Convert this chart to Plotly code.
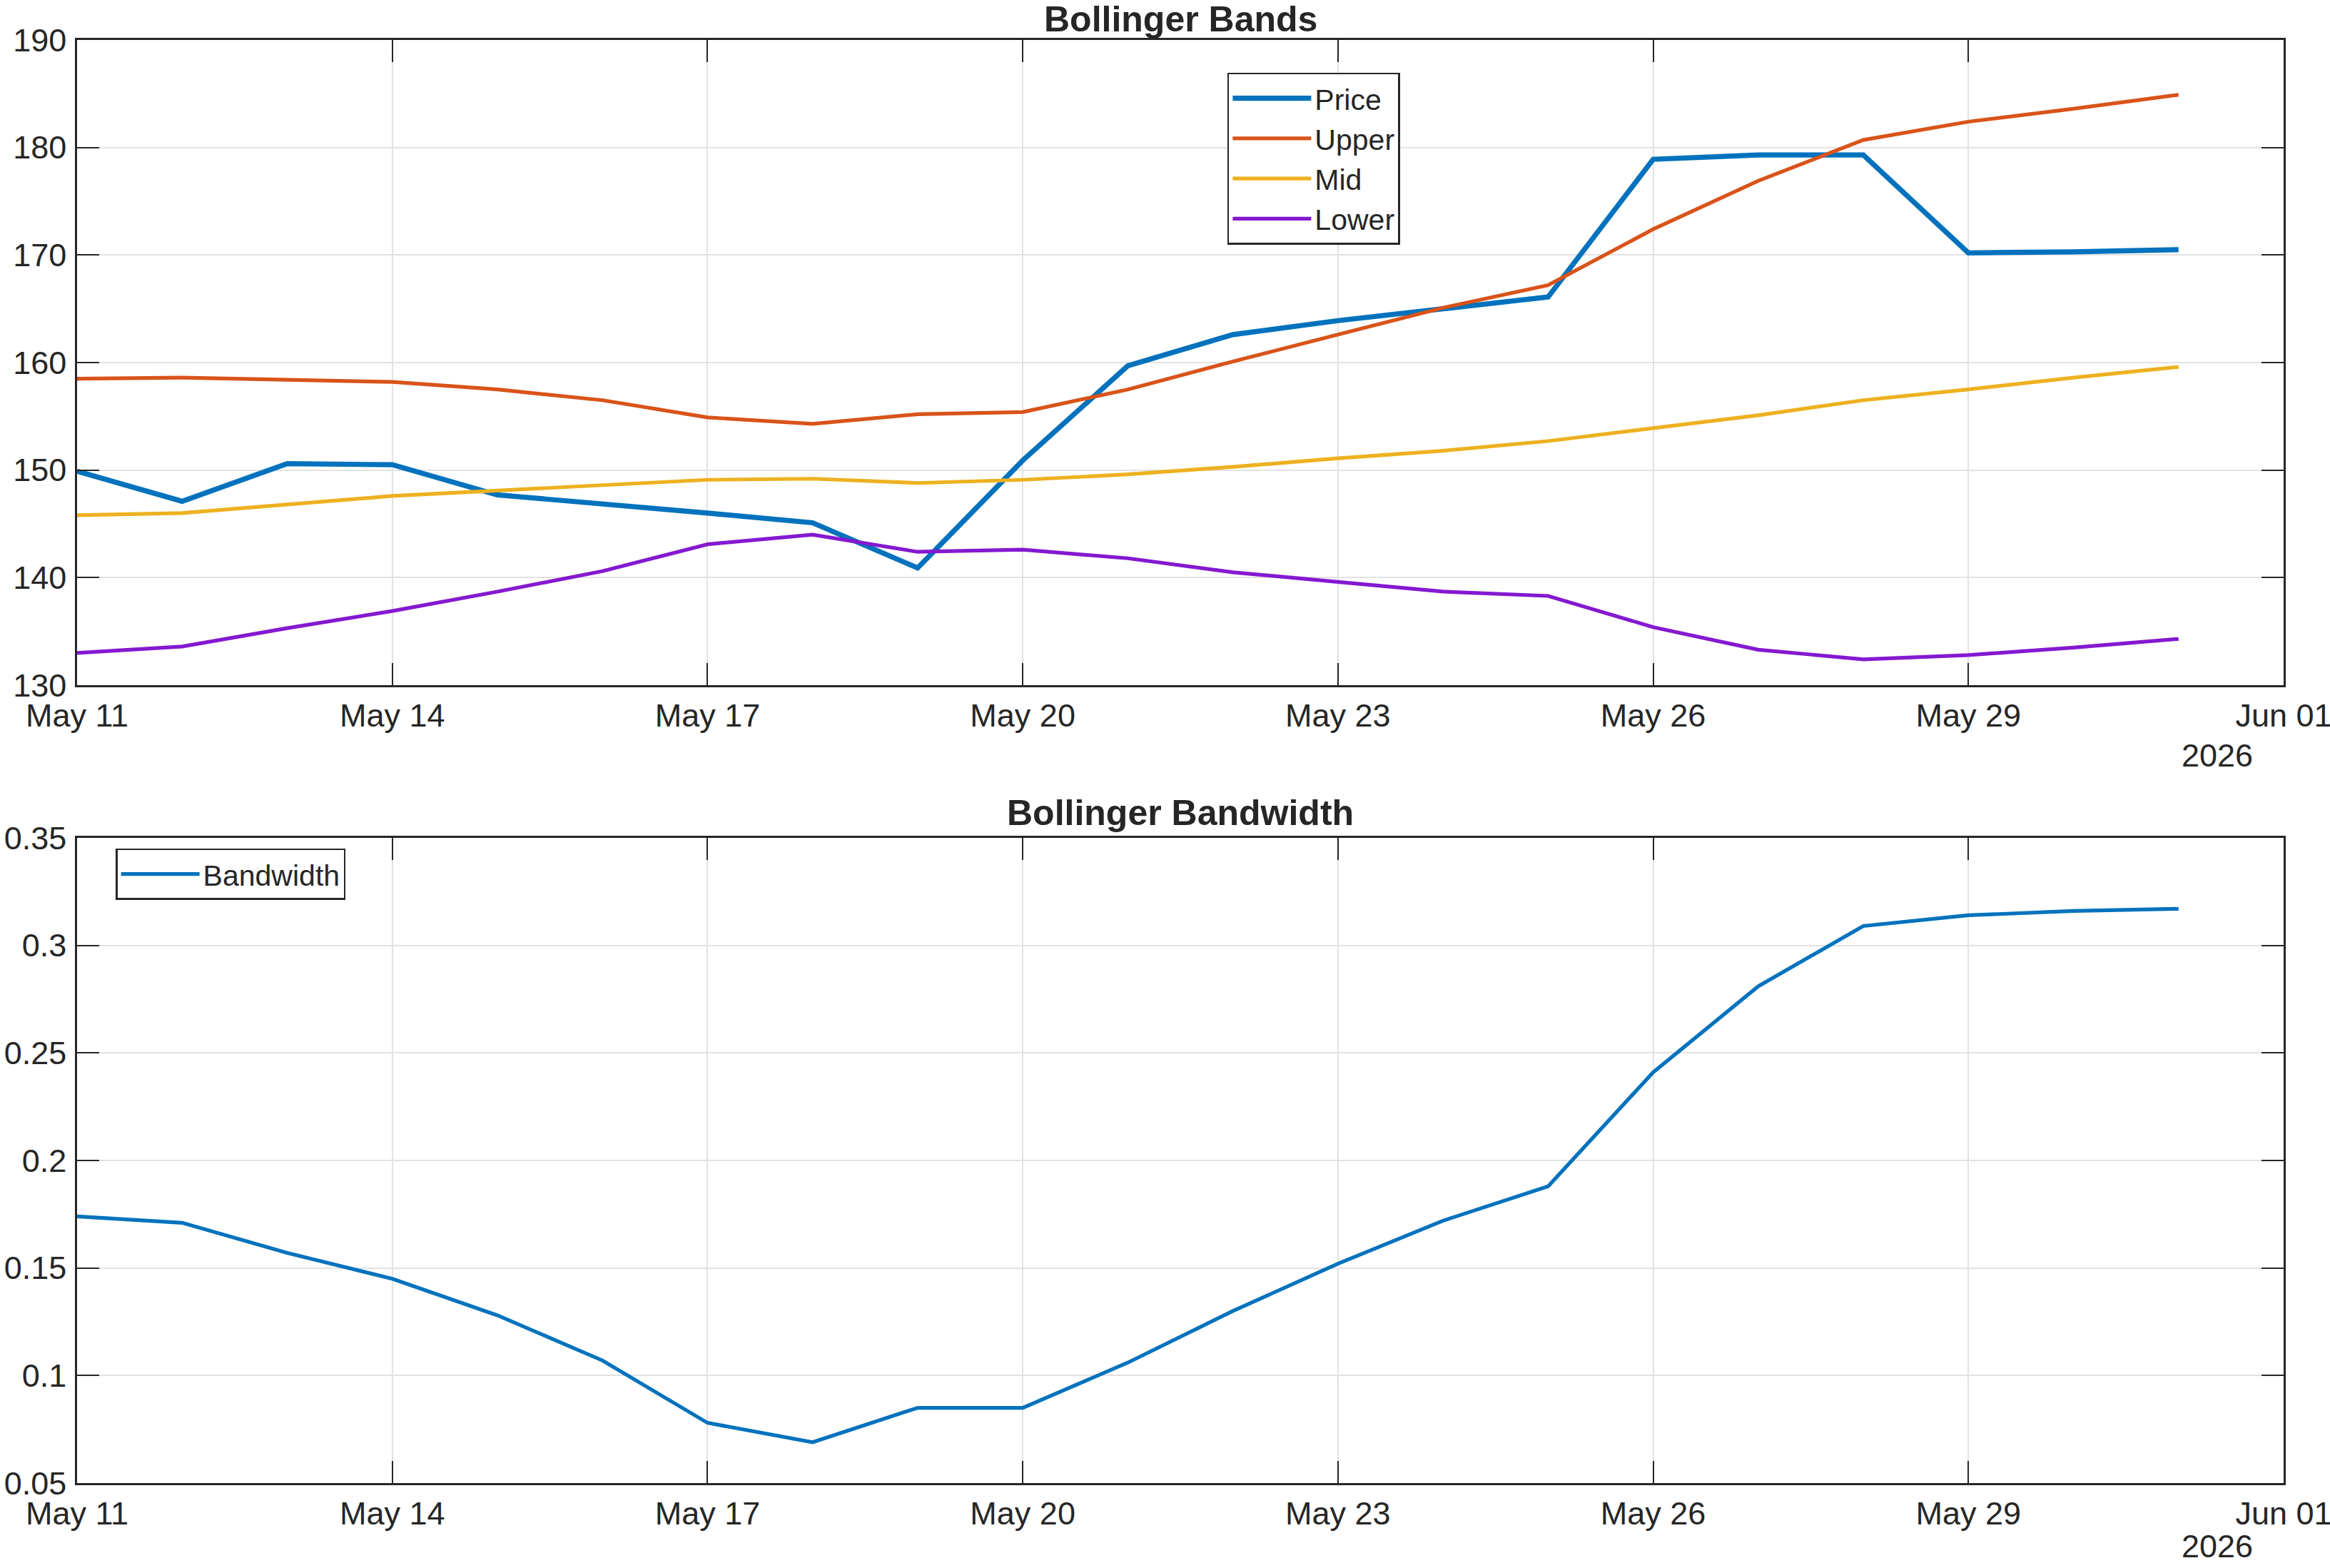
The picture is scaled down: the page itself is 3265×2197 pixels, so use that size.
import plotly.graph_objects as go
from plotly.subplots import make_subplots

dates = ["2026-05-%02d" % d for d in range(11, 32)]

price = [149.9, 147.1, 150.6, 150.5, 147.7, 146.9, 146.0, 145.1, 140.9, 150.9,
         159.7, 162.6, 163.9, 165.0, 166.1, 178.9, 179.3, 179.3, 170.2, 170.3, 170.5]
upper = [158.5, 158.6, 158.4, 158.2, 157.5, 156.5, 154.9, 154.3, 155.2, 155.4,
         157.5, 160.1, 162.6, 165.1, 167.2, 172.4, 176.9, 180.7, 182.4, 183.6, 184.9]
mid = [145.8, 146.0, 146.8, 147.6, 148.1, 148.6, 149.1, 149.2, 148.8, 149.1,
       149.6, 150.3, 151.1, 151.8, 152.7, 153.9, 155.1, 156.5, 157.5, 158.6, 159.6]
lower = [133.0, 133.6, 135.3, 136.9, 138.7, 140.6, 143.1, 144.0, 142.4, 142.6,
         141.8, 140.5, 139.6, 138.7, 138.3, 135.4, 133.3, 132.4, 132.8, 133.5, 134.3]
bandwidth = [0.174, 0.171, 0.157, 0.145, 0.128, 0.107, 0.078, 0.069, 0.085, 0.085,
             0.106, 0.130, 0.152, 0.172, 0.188, 0.241, 0.281, 0.309, 0.314, 0.316, 0.317]

xtick_vals = ["2026-05-11", "2026-05-14", "2026-05-17", "2026-05-20", "2026-05-23",
              "2026-05-26", "2026-05-29", "2026-06-01"]
xtick_text = ["May 11", "May 14", "May 17", "May 20", "May 23", "May 26", "May 29", "Jun 01"]
y1_ticks = [130, 140, 150, 160, 170, 180, 190]
y2_ticks = [0.05, 0.1, 0.15, 0.2, 0.25, 0.3, 0.35]

FONT = "Arial, Liberation Sans, Helvetica, sans-serif"
AX = "#262626"
TICK_SIZE = 45

fig = make_subplots(rows=2, cols=1, vertical_spacing=0.1058)
fig.update_layout(
    width=3265, height=2197,
    margin=dict(l=108, r=65, t=56, b=119, autoexpand=False),
    paper_bgcolor="white", plot_bgcolor="white",
    font=dict(family=FONT, size=TICK_SIZE, color=AX),
)

fig.add_trace(go.Scatter(x=dates, y=price, name="Price", mode="lines",
                         line=dict(color="#0072BD", width=7.2), legend="legend"), 1, 1)
fig.add_trace(go.Scatter(x=dates, y=upper, name="Upper", mode="lines",
                         line=dict(color="#D95319", width=5.2), legend="legend"), 1, 1)
fig.add_trace(go.Scatter(x=dates, y=mid, name="Mid", mode="lines",
                         line=dict(color="#EDB120", width=5.2), legend="legend"), 1, 1)
fig.add_trace(go.Scatter(x=dates, y=lower, name="Lower", mode="lines",
                         line=dict(color="#8419D0", width=5.2), legend="legend"), 1, 1)
fig.add_trace(go.Scatter(x=dates, y=bandwidth, name="Bandwidth", mode="lines",
                         line=dict(color="#0072BD", width=5.2), legend="legend2"), 2, 1)

fig.update_layout(yaxis_domain=[0.5529, 1.0], yaxis2_domain=[0.0, 0.4471])

common_x = dict(
    type="date", range=["2026-05-11", "2026-06-01"], tickmode="array",
    tickvals=xtick_vals, ticktext=xtick_text, automargin=False,
    showline=True, linecolor=AX, linewidth=2.5, mirror="allticks",
    ticks="inside", ticklen=31, tickwidth=2, tickcolor=AX,
    showgrid=True, gridcolor="#e2e2e2", gridwidth=1.5,
    zeroline=False, tickfont=dict(size=TICK_SIZE, color=AX, family=FONT),
    ticklabelstandoff=1, ticklabeloverflow="allow",
)
common_y = dict(
    showline=True, linecolor=AX, linewidth=2.5, mirror="allticks",
    ticks="inside", ticklen=31, tickwidth=2, tickcolor=AX, automargin=False,
    showgrid=True, gridcolor="#e2e2e2", gridwidth=1.5,
    zeroline=False, tickfont=dict(size=TICK_SIZE, color=AX, family=FONT),
    ticklabelstandoff=3, tickmode="array", ticklabeloverflow="allow",
)
fig.update_xaxes(**common_x)
fig.update_yaxes(**common_y)
fig.update_yaxes(range=[130, 190], tickvals=y1_ticks, row=1, col=1)
fig.update_yaxes(range=[0.05, 0.35], tickvals=y2_ticks,
                 ticktext=[str(v) for v in y2_ticks], row=2, col=1)

fig.update_layout(
    showlegend=True,
    legend=dict(x=0.5213, y=0.9773, xanchor="left", yanchor="top",
                bgcolor="white", bordercolor=AX, borderwidth=2.5,
                font=dict(size=41, color=AX, family=FONT), itemwidth=110,
                tracegroupgap=0),
    legend2=dict(x=0.0175, y=0.4397, xanchor="left", yanchor="top",
                 bgcolor="white", bordercolor=AX, borderwidth=2.5,
                 font=dict(size=41, color=AX, family=FONT), itemwidth=110),
)

annots = [
    dict(text="<b>Bollinger Bands</b>", x=0.5, y=1.0145, yanchor="middle",
         font=dict(size=50, color=AX, family=FONT)),
    dict(text="<b>Bollinger Bandwidth</b>", x=0.5, y=0.4646, yanchor="middle",
         font=dict(size=50, color=AX, family=FONT)),
    dict(text="2026", x=0.970, y=0.504, yanchor="middle",
         font=dict(size=TICK_SIZE, color=AX, family=FONT)),
    dict(text="2026", x=0.970, y=-0.0575, yanchor="bottom",
         font=dict(size=TICK_SIZE, color=AX, family=FONT)),
]
for a in annots:
    fig.add_annotation(xref="paper", yref="paper", xanchor="center",
                       showarrow=False, **a)

fig.write_html("out.html")
